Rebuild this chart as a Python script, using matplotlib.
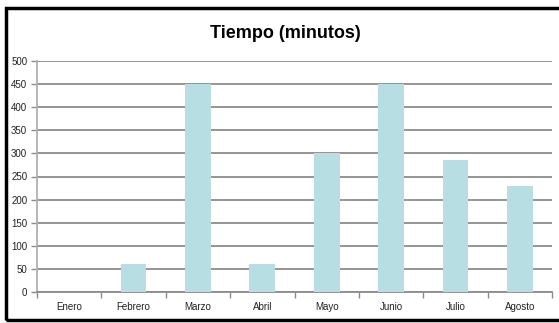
import matplotlib
matplotlib.use("Agg")
import matplotlib.pyplot as plt
from matplotlib.patches import Rectangle

categories = ["Enero", "Febrero", "Marzo", "Abril", "Mayo", "Junio", "Julio", "Agosto"]
values = [0, 60, 450, 60, 300, 450, 285, 230]
yticks = [0, 50, 100, 150, 200, 250, 300, 350, 400, 450, 500]
title = "Tiempo (minutos)"

plt.rcParams['font.family'] = ['Liberation Sans Narrow', 'Liberation Sans', 'DejaVu Sans']

W, H = 559, 323
fig = plt.figure(figsize=(W / 100, H / 100), dpi=100)
fig.patch.set_facecolor("white")

ax = fig.add_axes([37 / W, 1 - 292 / H, (552 - 37) / W, (292 - 61) / H])
x = list(range(len(categories)))
ax.bar(x, values, width=0.4, color="#b7dee2", zorder=3)
ax.set_xlim(-0.5, len(categories) - 0.5)
ax.set_ylim(0, 500)
ax.set_yticks(yticks)
ax.set_yticklabels([str(v) for v in yticks], fontsize=7, color="#222222")
ax.yaxis.grid(True, color="#8c8c8c", linewidth=1.3, zorder=1)
ax.set_axisbelow(True)

ax.set_xticks(x)
ax.set_xticklabels(categories, fontsize=7, color="#222222")
ax.tick_params(axis="x", length=0, pad=7)
ax.set_xticks([i - 0.5 for i in range(len(categories) + 1)], minor=True)
ax.tick_params(axis="x", which="minor", length=4, color="#8c8c8c", width=1)
ax.tick_params(axis="y", length=4, color="#8c8c8c", width=1, pad=3)

for s in ["top", "right"]:
    ax.spines[s].set_visible(False)
ax.spines["left"].set_color("#b0b0b0")
ax.spines["left"].set_linewidth(1.3)
ax.spines["bottom"].set_color("#8c8c8c")
ax.spines["bottom"].set_linewidth(1.3)

fig.text(285 / W, 1 - 33 / H, title, ha="center", va="center",
         fontsize=13, fontweight="bold", color="black")

border = Rectangle((5.5 / W, 1 - 320 / H), (W + 10) / W, (320 - 8) / H,
                   transform=fig.transFigure, fill=False, edgecolor="black",
                   linewidth=2.5, zorder=10)
fig.patches.append(border)

fig.savefig("out.png", dpi=100, facecolor="white")
